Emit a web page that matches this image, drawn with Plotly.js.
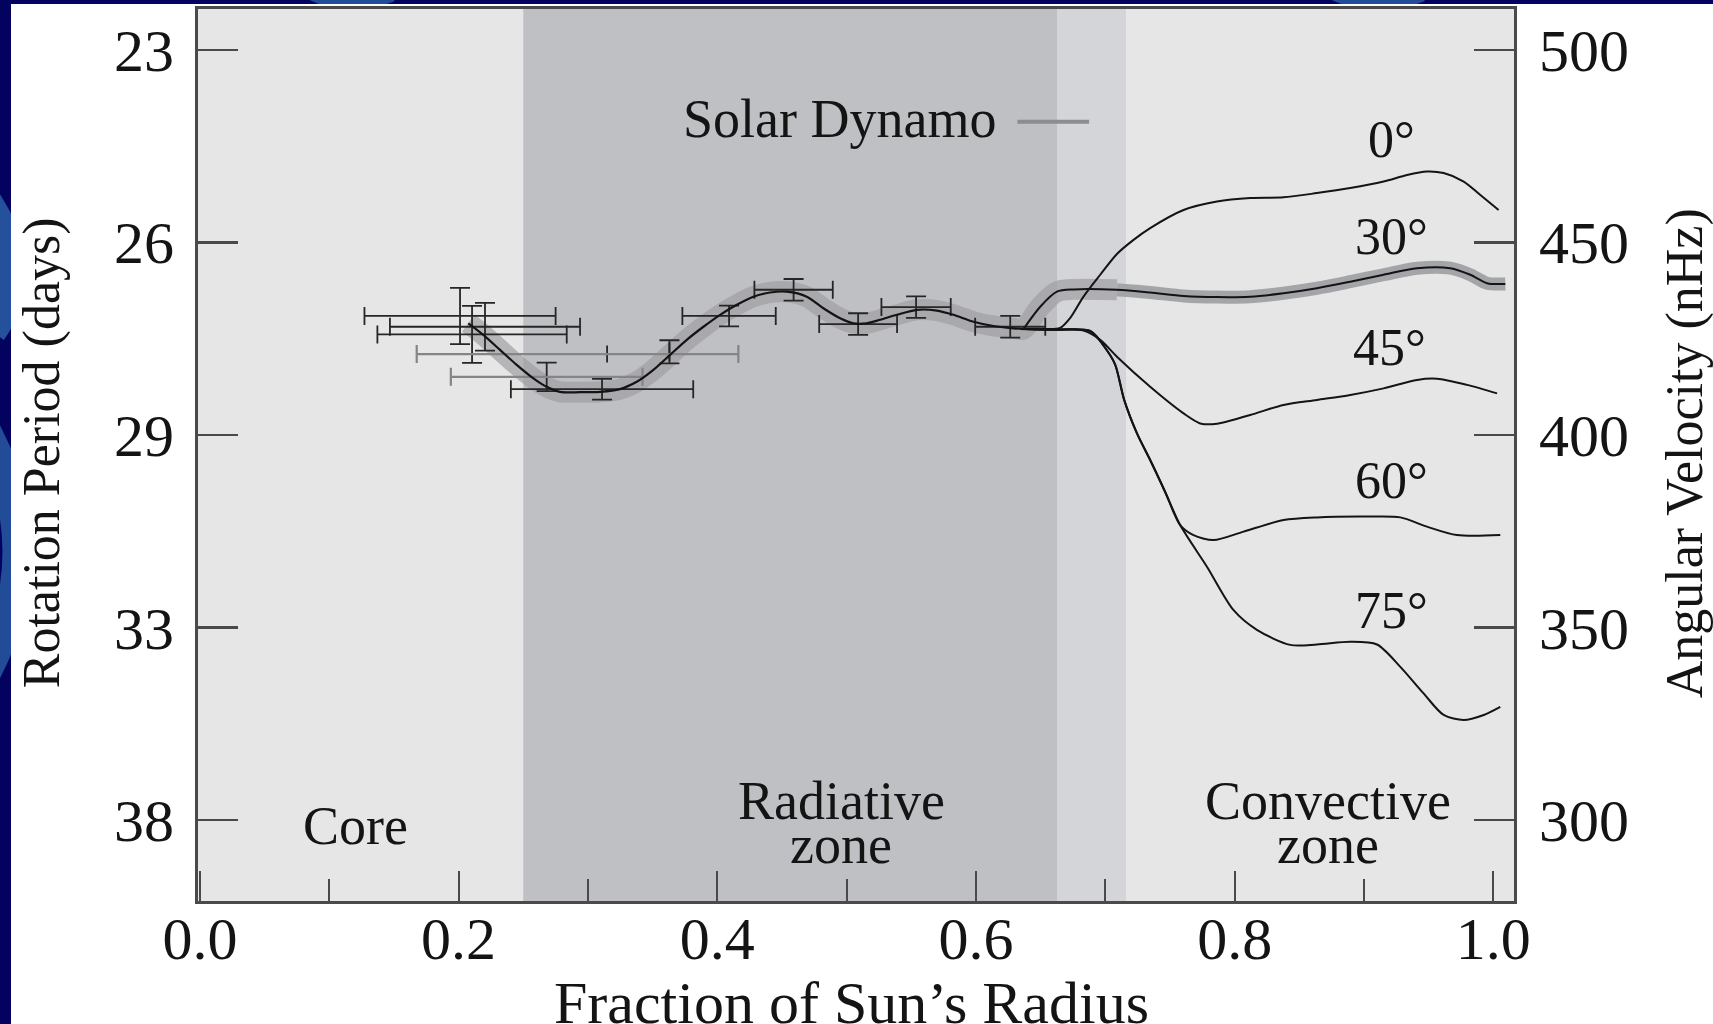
<!DOCTYPE html>
<html>
<head>
<meta charset="utf-8">
<script src="https://cdn.plot.ly/plotly-3.0.1.min.js"></script>
<style>
  html, body { margin:0; padding:0; width:1713px; height:1024px; overflow:hidden; background:#03035f; }
  #deco { position:absolute; left:0; top:0; }
  #chart { position:absolute; left:11px; top:4px; width:1702px; height:1020px; }
</style>
</head>
<body>
<svg id="deco" width="1713" height="1024" viewBox="0 0 1713 1024">
  <path d="M -40 170 Q 40 260 -10 330" stroke="#2b5ea6" stroke-width="34" fill="none" opacity="0.85"/>
  <path d="M -20 420 Q 60 560 -30 700" stroke="#2b5ea6" stroke-width="30" fill="none" opacity="0.8"/>
  <path d="M 300 -20 Q 340 10 390 -10" stroke="#2b5ea6" stroke-width="24" fill="none" opacity="0.8"/>
  <path d="M 1320 -20 Q 1370 12 1420 -10" stroke="#2b5ea6" stroke-width="24" fill="none" opacity="0.8"/>
</svg>
<div id="chart"></div>
<script>
// ---- axis labels ----
const velocityTicks = [500, 450, 400, 350, 300];           // nHz positions
const periodLabels  = ['23', '26', '29', '33', '38'];      // days (left axis)
const velocityLabels = ['500', '450', '400', '350', '300'];
// ---- zones (fraction of radius) ----
const radiativeZone = [0.25, 0.663];
const tachoclineZone = [0.663, 0.716];

// ---- inner rotation profile (x = r/R, v = nHz) ----
const innerX = [0.2075,0.2191,0.2320,0.2449,0.2578,0.2681,0.2784,0.2939,0.3094,0.3248,0.3377,0.3506,0.3635,0.3764,0.3893,0.4022,0.4151,0.4279,0.4408,0.4537,0.4692,0.4820,0.4950,0.5053,0.5156,0.5259,0.5388,0.5543,0.5698,0.5826,0.5981,0.6135,0.6290,0.6367];
const innerV = [429.0,426.0,422.1,418.2,414.7,412.5,411.2,411.1,411.2,411.9,413.8,416.9,420.8,424.7,428.1,431.2,433.8,435.9,437.0,437.2,435.9,432.9,430.3,429.0,429.0,429.9,431.2,432.5,432.3,431.2,429.4,428.3,427.7,427.5];

// ---- latitude profiles in the convective zone ----
const lat0X = [0.6367,0.6535,0.6651,0.6729,0.6829,0.6961,0.7090,0.7216,0.7347,0.7605,0.7863,0.8121,0.8378,0.8636,0.8894,0.9152,0.9333,0.9487,0.9616,0.9771,0.9900,1.0041];
const lat0V = [427.5,427.5,427.8,430.4,435.8,441.6,447.0,450.6,453.7,458.4,460.6,461.5,461.7,462.8,464.1,465.8,467.5,468.4,468.0,465.8,462.3,458.4];
const lat30X = [0.6367,0.6497,0.6626,0.6754,0.7090,0.7347,0.7605,0.7863,0.8121,0.8378,0.8636,0.8894,0.9152,0.9410,0.9667,0.9822,0.9951,1.0093];
const lat30V = [427.5,433.3,437.2,437.8,437.7,437.0,436.1,435.8,435.9,436.8,438.1,439.8,441.6,443.3,443.3,441.6,439.4,439.2];
const lat45X = [0.6367,0.6574,0.6831,0.6961,0.7090,0.7347,0.7605,0.7734,0.7863,0.8121,0.8378,0.8636,0.8894,0.9152,0.9410,0.9565,0.9797,1.0029];
const lat45V = [427.5,427.3,427.1,424.7,420.3,412.5,405.6,403.0,402.9,405.2,407.8,409.1,410.4,412.1,414.3,414.6,413.0,410.8];
const lat60X = [0.6367,0.6574,0.6883,0.7012,0.7077,0.7146,0.7245,0.7347,0.7463,0.7579,0.7682,0.7837,0.8069,0.8378,0.8636,0.9023,0.9281,0.9487,0.9719,1.0054];
const lat60V = [427.5,427.3,427.0,422.0,418.2,409.1,400.4,393.5,385.2,376.6,374.0,372.7,374.9,377.9,378.6,378.8,378.6,376.2,374.0,374.0];
const lat75X = [0.6367,0.6574,0.6883,0.7012,0.7077,0.7146,0.7245,0.7347,0.7463,0.7579,0.7786,0.7992,0.8172,0.8430,0.8636,0.8894,0.9101,0.9281,0.9461,0.9616,0.9771,0.9926,1.0054];
const lat75V = [427.5,427.3,427.0,422.0,418.2,409.1,400.4,393.5,385.2,376.6,365.8,354.5,349.4,345.5,345.6,346.3,345.6,339.8,332.9,327.3,326.0,327.3,329.4];

// ---- helioseismic measurements with error bars ----
const obsX     = [0.2011,0.2204,0.2104,0.3109,0.3630,0.4091,0.4590,0.5089,0.5537,0.6265];
const obsV     = [430.9,428.1,426.1,411.9,421.6,430.9,437.7,428.8,433.2,428.1];
const obsXErr  = [0.0739,0.0735,0.0732,0.0705,0,0.0361,0.0303,0.0301,0.0268,0.0271];
const obsVErr  = [7.3,6.2,7.4,2.7,3.0,2.7,2.8,2.8,2.8,2.8];
const mixX = [0.2681], mixV = [415.1], mixXErr = [0.0741], mixVErr = [3.7];
const greyX = [0.3148], greyV = [421.0], greyXMinus = [0.1472], greyXPlus = [0.1015], greyVErr = [2.2];

// ---- labels ----
const latLabels = ['0°', '30°', '45°', '60°', '75°'];
const latLabelX = [0.921, 0.921, 0.920, 0.921, 0.921];
const latLabelV = [476.6, 451.6, 422.6, 388.2, 354.5];
const dynamoKeyX = [0.632, 0.6875];
const dynamoKeyV = [481.3, 481.3];

const serif = 'Liberation Serif, Times New Roman, serif';
const ink = '#141414';
const bandColorIn = 'rgba(156,157,161,0.67)';
const bandColorOut = '#a4a5a9';

const bandCut = 4; // index in lat30 where the band narrows
const traces = [
  { x: innerX.concat(lat30X.slice(1, bandCut + 1)), y: innerV.concat(lat30V.slice(1, bandCut + 1)),
    mode: 'lines', line: { color: bandColorIn, width: 21, shape: 'spline', smoothing: 0.8 }, hoverinfo: 'skip' },
  { x: lat30X.slice(bandCut), y: lat30V.slice(bandCut),
    mode: 'lines', line: { color: bandColorOut, width: 13, shape: 'spline', smoothing: 0.8 }, hoverinfo: 'skip' },
  { x: obsX, y: obsV, mode: 'markers', marker: { size: 1, color: 'rgba(0,0,0,0)' },
    error_x: { type: 'data', array: obsXErr, color: '#262626', thickness: 1.8, width: 9 },
    error_y: { type: 'data', array: obsVErr, color: '#262626', thickness: 1.8, width: 10 } },
  { x: mixX, y: mixV, mode: 'markers', marker: { size: 1, color: 'rgba(0,0,0,0)' },
    error_x: { type: 'data', array: mixXErr, color: '#858589', thickness: 2.2, width: 9 },
    error_y: { type: 'data', array: mixVErr, color: '#262626', thickness: 1.8, width: 10 } },
  { x: greyX, y: greyV, mode: 'markers', marker: { size: 1, color: 'rgba(0,0,0,0)' },
    error_x: { type: 'data', symmetric: false, array: greyXPlus, arrayminus: greyXMinus, color: '#858589', thickness: 2.2, width: 9 },
    error_y: { type: 'data', array: greyVErr, color: '#262626', thickness: 1.8, width: 0 } },
  { x: innerX, y: innerV, mode: 'lines', line: { color: ink, width: 2.2, shape: 'spline', smoothing: 0.8 } },
  { x: lat0X, y: lat0V, mode: 'lines', line: { color: ink, width: 2, shape: 'spline', smoothing: 0.8 } },
  { x: lat30X, y: lat30V, mode: 'lines', line: { color: ink, width: 2, shape: 'spline', smoothing: 0.8 } },
  { x: lat45X, y: lat45V, mode: 'lines', line: { color: ink, width: 2, shape: 'spline', smoothing: 0.8 } },
  { x: lat60X, y: lat60V, mode: 'lines', line: { color: ink, width: 2, shape: 'spline', smoothing: 0.8 } },
  { x: lat75X, y: lat75V, mode: 'lines', line: { color: ink, width: 2, shape: 'spline', smoothing: 0.8 } },
  { x: dynamoKeyX, y: dynamoKeyV, mode: 'lines', line: { color: '#8c8d91', width: 4 }, hoverinfo: 'skip' },
  { x: [0.5], y: [400], yaxis: 'y2', mode: 'markers', marker: { size: 1, color: 'rgba(0,0,0,0)' }, hoverinfo: 'skip' }
];

const annotations = [];
latLabels.forEach((t, i) => annotations.push({ x: latLabelX[i], y: latLabelV[i], xref: 'x', yref: 'y', text: t,
  showarrow: false, xanchor: 'center', yanchor: 'middle', font: { family: serif, size: 52, color: ink } }));
const zoneText = [
  ['Core', 0.1206, 298.4], ['Radiative', 0.4957, 304.9], ['zone', 0.4957, 293.6],
  ['Convective', 0.8722, 304.9], ['zone', 0.8722, 293.6]
];
zoneText.forEach(z => annotations.push({ x: z[1], y: z[2], xref: 'x', yref: 'y', text: z[0], showarrow: false,
  xanchor: 'center', yanchor: 'middle', font: { family: serif, size: 54, color: ink } }));
annotations.push({ x: 0.617, y: 482, xref: 'x', yref: 'y', text: 'Solar Dynamo', showarrow: false,
  xanchor: 'right', yanchor: 'middle', font: { family: serif, size: 54, color: ink } });
annotations.push({ x: 0.4968, y: -0.1145, xref: 'paper', yref: 'paper', text: 'Fraction of Sun’s Radius', showarrow: false,
  xanchor: 'center', yanchor: 'middle', font: { family: serif, size: 60, color: ink } });
annotations.push({ x: -0.1185, y: 0.502, xref: 'paper', yref: 'paper', text: 'Rotation Period (days)', showarrow: false,
  textangle: -90, xanchor: 'center', yanchor: 'middle', font: { family: serif, size: 52, color: ink } });
annotations.push({ x: 1.13, y: 0.502, xref: 'paper', yref: 'paper', text: 'Angular Velocity (nHz)', showarrow: false,
  textangle: -90, xanchor: 'center', yanchor: 'middle', font: { family: serif, size: 52, color: ink } });

const shapes = [
  { type: 'rect', xref: 'x', yref: 'paper', x0: radiativeZone[0], x1: radiativeZone[1], y0: 0, y1: 1,
    fillcolor: '#bfc0c4', line: { width: 0 }, layer: 'below' },
  { type: 'rect', xref: 'x', yref: 'paper', x0: tachoclineZone[0], x1: tachoclineZone[1], y0: 0, y1: 1,
    fillcolor: '#d4d5d8', line: { width: 0 }, layer: 'below' }
];

const yRange = [279, 510.6];
const layout = {
  width: 1702, height: 1020,
  margin: { l: 187, r: 199, t: 5, b: 123 },
  paper_bgcolor: '#ffffff', plot_bgcolor: '#e6e6e6',
  showlegend: false,
  font: { family: serif, color: ink },
  xaxis: {
    range: [-0.0015, 1.016], tick0: 0, dtick: 0.2, tickformat: '.1f',
    ticks: 'inside', ticklen: 30, tickwidth: 2, tickcolor: '#4a4a4a',
    minor: { dtick: 0.1, ticks: 'inside', ticklen: 22, tickwidth: 2, tickcolor: '#4a4a4a' },
    showline: true, linecolor: '#4a4a4a', linewidth: 3, mirror: true,
    showgrid: false, zeroline: false,
    tickfont: { family: serif, size: 60, color: ink }, ticklabelstandoff: -17
  },
  yaxis: {
    range: yRange, tickmode: 'array', tickvals: velocityTicks, ticktext: periodLabels,
    ticks: 'inside', ticklen: 40, tickwidth: 2.5, tickcolor: '#4a4a4a',
    showline: true, linecolor: '#4a4a4a', linewidth: 3,
    showgrid: false, zeroline: false,
    tickfont: { family: serif, size: 60, color: ink }, ticklabelstandoff: 9
  },
  yaxis2: {
    range: yRange, overlaying: 'y', side: 'right', tickmode: 'array', tickvals: velocityTicks, ticktext: velocityLabels,
    ticks: 'inside', ticklen: 40, tickwidth: 2.5, tickcolor: '#4a4a4a',
    showline: true, linecolor: '#4a4a4a', linewidth: 3,
    showgrid: false, zeroline: false,
    tickfont: { family: serif, size: 60, color: ink }, ticklabelstandoff: 10
  },
  shapes: shapes,
  annotations: annotations
};

Plotly.newPlot('chart', traces, layout, { staticPlot: true, displayModeBar: false });
</script>
</body>
</html>
